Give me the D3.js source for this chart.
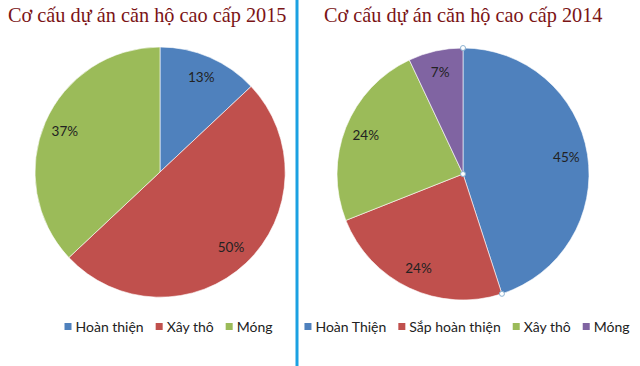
<!DOCTYPE html>
<html>
<head>
<meta charset="utf-8">
<script src="https://cdn.jsdelivr.net/npm/d3@7"></script>
<style>
  body { margin: 0; background: #fff; }
  .title { font-family: "Liberation Serif", "Times New Roman", serif; fill: #7b1416; }
  .lbl, .leg { font-family: Lato, "Open Sans", sans-serif; fill: #222; }
</style>
</head>
<body>
<div class="chart"></div>
<script>
var svgWidth = 640;
var svgHeight = 366;

// data
var labels2015 = ["Hoàn thiện", "Xây thô", "Móng"];
var values2015 = [13, 50, 37];
var colors2015 = ["#4f81bd", "#c0504d", "#9bbb59"];

var labels2014 = ["Hoàn Thiện", "Sắp hoàn thiện", "Xây thô", "Móng"];
var values2014 = [45, 24, 24, 7];
var colors2014 = ["#4f81bd", "#c0504d", "#9bbb59", "#8064a2"];

var svg = d3.select(".chart")
  .append("svg")
  .attr("width", svgWidth)
  .attr("height", svgHeight);

// divider
svg.append("rect")
  .attr("x", 295.5).attr("y", 0)
  .attr("width", 3).attr("height", svgHeight)
  .attr("fill", "#1ba1e2");

function drawPie(opts) {
  var g = svg.append("g");

  g.append("text")
    .attr("class", "title")
    .attr("x", opts.titleX)
    .attr("y", 22)
    .attr("font-size", 20.3)
    .text(opts.title);

  var pie = d3.pie().sort(null).value(function(d) { return d; });
  var arcs = pie(opts.values);
  var arc = d3.arc().innerRadius(0).outerRadius(opts.r);
  var labelArc = d3.arc().innerRadius(opts.r * 0.83).outerRadius(opts.r * 0.83);

  var pg = g.append("g")
    .attr("transform", "translate(" + opts.cx + "," + opts.cy + ")");

  pg.selectAll("path")
    .data(arcs)
    .enter().append("path")
      .attr("d", arc)
      .attr("fill", function(d, i) { return opts.colors[i]; })
      .attr("stroke", "#fff")
      .attr("stroke-width", 0.6);

  pg.selectAll("text.lbl")
    .data(arcs)
    .enter().append("text")
      .attr("class", "lbl")
      .attr("transform", function(d) { return "translate(" + labelArc.centroid(d) + ")"; })
      .attr("text-anchor", "middle")
      .attr("dy", "0.35em")
      .attr("font-size", 13.5)
      .text(function(d) { return d.data + "%"; });

  if (opts.handles) {
    var a0 = arcs[0].endAngle;
    var pts = [[0, -opts.r], [0, 0], [opts.r * Math.sin(a0), -opts.r * Math.cos(a0)]];
    pg.selectAll("circle.h")
      .data(pts)
      .enter().append("circle")
        .attr("class", "h")
        .attr("cx", function(d) { return d[0]; })
        .attr("cy", function(d) { return d[1]; })
        .attr("r", 2.5)
        .attr("fill", "#fff")
        .attr("stroke", "#8db3d2")
        .attr("stroke-width", 1);
  }

  // legend, laid out by measured text widths and centered
  var lg = g.append("g");
  var x = 0;
  opts.labels.forEach(function(name, i) {
    var it = lg.append("g");
    it.append("rect")
      .attr("x", 0).attr("y", -4)
      .attr("width", 7).attr("height", 7)
      .attr("fill", opts.colors[i]);
    var t = it.append("text")
      .attr("class", "leg")
      .attr("x", 11)
      .attr("dy", "0.35em")
      .attr("font-size", 14)
      .text(name);
    var w = 11 + t.node().getComputedTextLength();
    it.attr("transform", "translate(" + x + ",0)");
    x += w + opts.legGap;
  });
  var total = x - opts.legGap;
  lg.attr("transform", "translate(" + (opts.legCx - total / 2) + ",327)");
}

drawPie({
  title: "Cơ cấu dự án căn hộ cao cấp 2015",
  titleX: 8,
  labels: labels2015, values: values2015, colors: colors2015,
  cx: 160, cy: 172, r: 125,
  legCx: 168.5, legGap: 12,
  handles: false
});

drawPie({
  title: "Cơ cấu dự án căn hộ cao cấp 2014",
  titleX: 324,
  labels: labels2014, values: values2014, colors: colors2014,
  cx: 463, cy: 174, r: 126,
  legCx: 467, legGap: 12,
  handles: true
});
</script>
</body>
</html>
